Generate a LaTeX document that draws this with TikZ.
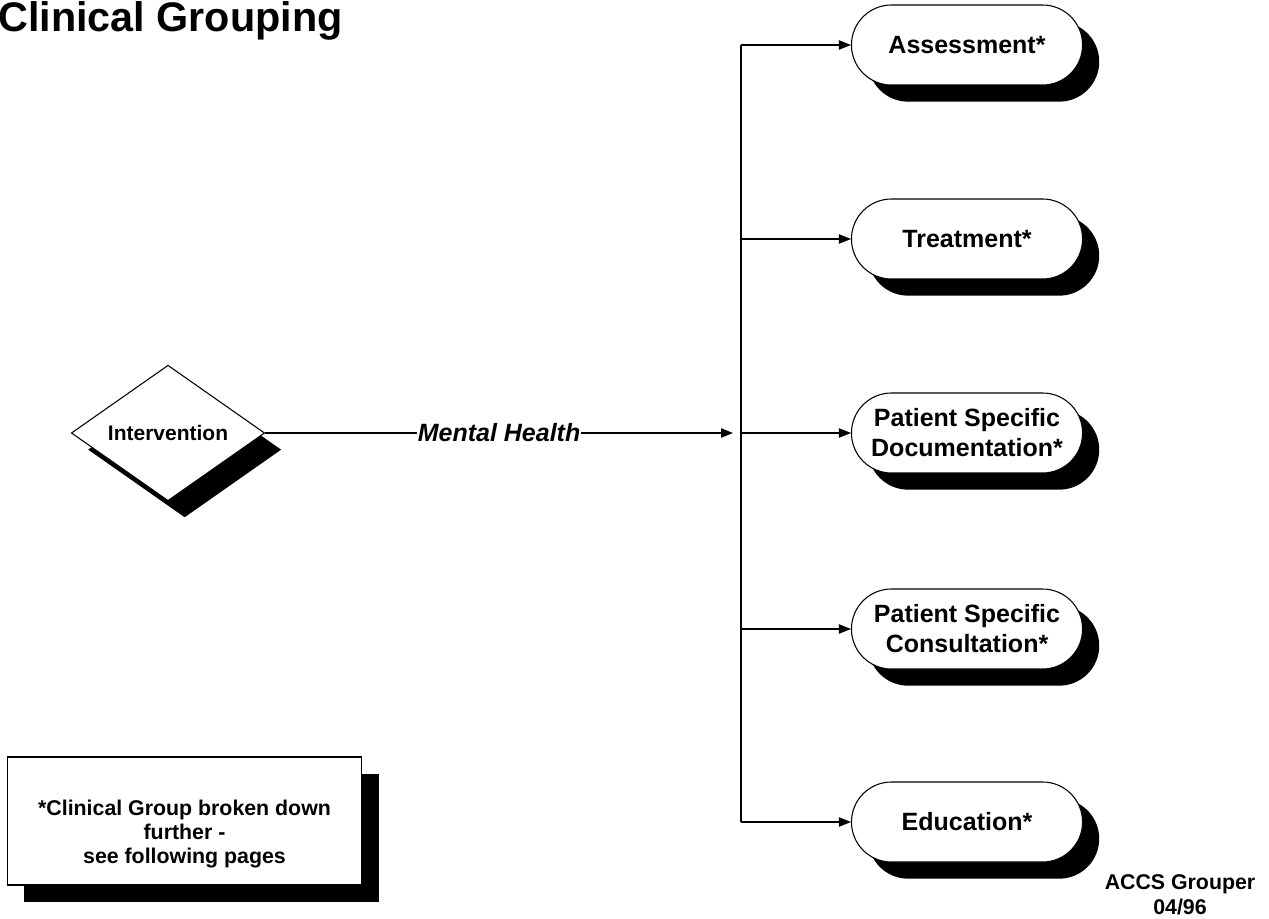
\documentclass[tikz,border=0pt]{standalone}
\usepackage{fontspec}
\setmainfont{Liberation Sans}
\usepackage{tikz}
\usetikzlibrary{arrows.meta,positioning,shapes.geometric,shapes.misc,shadows}

\begin{document}
\begin{tikzpicture}[x=0.75pt,y=-0.75pt,
  flow/.style={-{Triangle[length=9pt,width=7pt]}, line width=0.8pt},
  hardshadow/.style={drop shadow={shadow xshift=12.5pt, shadow yshift=-12.5pt, fill=black, opacity=1}},
  group/.style={rounded rectangle, draw, line width=0.8pt, fill=white, hardshadow,
    minimum width=180pt, minimum height=60pt, align=center,
    font=\fontsize{18.75}{22.5}\selectfont\bfseries},
  decision/.style={diamond, draw, line width=0.8pt, fill=white, hardshadow, inner sep=0pt,
    minimum width=145pt, minimum height=97pt, font=\fontsize{15.75}{18}\selectfont\bfseries},
  notebox/.style={rectangle, draw, line width=0.8pt, fill=white, hardshadow,
    minimum width=266pt, minimum height=96pt},
  notetext/.style={align=center, font=\fontsize{16}{18}\selectfont\bfseries}]
  \useasboundingbox (0,0) rectangle (1269,919);

  \node[anchor=base west, inner sep=0pt, font=\fontsize{31}{36}\selectfont\bfseries] (title) at (-2,32) {Clinical Grouping};

  % decision and the five groups
  \node[decision] (decide) at (168,433) {Intervention};
  \node[group] (assess) at (967,45) {Assessment*};
  \node[group] (treat) at (967,239) {Treatment*};
  \node[group] (doc) at (967,433) {Patient Specific\\Documentation*};
  \node[group] (consult) at (967,629) {Patient Specific\\Consultation*};
  \node[group] (edu) at (967,822) {Education*};

  \coordinate (hub) at (733,433);
  \coordinate (trunk) at (741,433);

  \draw[flow] (decide.east) -- (hub)
    node[midway, fill=white, inner sep=0.5pt, font=\fontsize{18.75}{22}\selectfont\bfseries\itshape] (mh) {Mental Health};
  \draw[line width=0.8pt] (assess.west -| trunk) -- (edu.west -| trunk);
  \foreach \g in {assess,treat,doc,consult,edu}
    \draw[flow] (\g.west -| trunk) -- (\g.west);

  \node[notebox] (note) at (184.5,821) {};
  \node[notetext] (notetxt) at (184.5,834) {*Clinical Group broken down\\further -\\see following pages};
  \node[align=center, font=\fontsize{16}{18.75}\selectfont\bfseries] (stamp) at (1180,895) {ACCS Grouper\\04/96};
\end{tikzpicture}
\end{document}
